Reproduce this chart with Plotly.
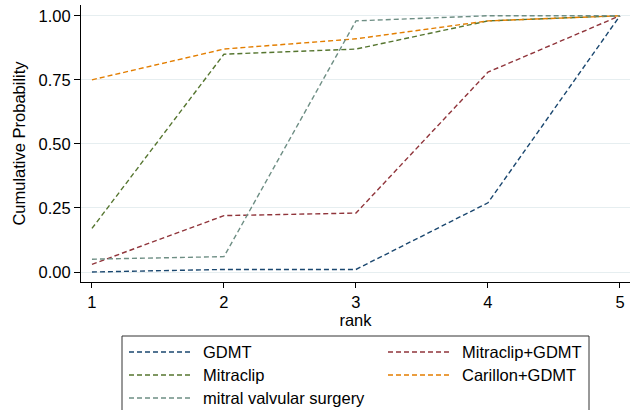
import plotly.graph_objects as go

# Cumulative ranking probabilities by treatment
ranks = [1, 2, 3, 4, 5]
names = ["GDMT", "Mitraclip+GDMT", "Mitraclip", "Carillon+GDMT", "mitral valvular surgery"]
gdmt = [0.00, 0.01, 0.01, 0.27, 1.00]
mitraclip_gdmt = [0.03, 0.22, 0.23, 0.78, 1.00]
mitraclip = [0.17, 0.85, 0.87, 0.98, 1.00]
carillon_gdmt = [0.75, 0.87, 0.91, 0.98, 1.00]
surgery = [0.05, 0.06, 0.98, 1.00, 1.00]
series = [gdmt, mitraclip_gdmt, mitraclip, carillon_gdmt, surgery]
colors = ["#1a476f", "#90353b", "#55752f", "#e37e00", "#6e8e84"]
ytick_vals = [0, 0.25, 0.5, 0.75, 1.0]

W, H = 632, 410
ML, MR, MT, MB = 81, 2, 5, 128
DASH = "5px,3px"
FONT = "Liberation Sans, Arial, sans-serif"
FS = 16.5

fig = go.Figure()
for name, vals, col in zip(names, series, colors):
    fig.add_trace(go.Scatter(
        x=ranks, y=vals, mode="lines", name=name,
        line=dict(color=col, width=1.4, dash=DASH),
        showlegend=False, hoverinfo="x+y+name",
    ))

# Legend box drawn below the plot area (two columns, row-wise order)
plot_h = H - MT - MB
plot_w = W - ML - MR


def px_x(p):
    return (p - ML) / plot_w


def px_y(p):
    return (H - MB - p) / plot_h


shapes = [dict(type="rect", xref="paper", yref="paper",
               x0=px_x(122), x1=px_x(589), y0=px_y(414), y1=px_y(336),
               line=dict(color="#333333", width=1), fillcolor="white", layer="above")]
annotations = []
row_y = [352, 375, 398]
col_x = [(129, 190, 201), (388, 450, 460)]
for i, (name, col) in enumerate(zip(names, colors)):
    r, c = divmod(i, 2)
    x0, x1, xt = col_x[c]
    yy = px_y(row_y[r])
    shapes.append(dict(type="line", xref="paper", yref="paper",
                       x0=px_x(x0), x1=px_x(x1), y0=yy, y1=yy,
                       line=dict(color=col, width=1.4, dash=DASH), layer="above"))
    annotations.append(dict(text=name, xref="paper", yref="paper",
                            x=px_x(xt), y=yy, xanchor="left", yanchor="middle",
                            showarrow=False, font=dict(size=FS, color="#000000", family=FONT)))

fig.update_layout(
    width=W, height=H,
    margin=dict(l=ML, r=MR, t=MT, b=MB),
    paper_bgcolor="white", plot_bgcolor="white",
    font=dict(family=FONT, size=FS, color="#000000"),
    shapes=shapes, annotations=annotations,
    xaxis=dict(
        range=[0.917, 5.076], tickvals=ranks, ticktext=[str(r) for r in ranks],
        showgrid=False, zeroline=False,
        showline=True, linecolor="#000000", linewidth=1.2,
        ticks="outside", ticklen=5, tickwidth=1.2, tickcolor="#000000",
        tickfont=dict(size=FS),
        title=dict(text="rank", font=dict(size=FS), standoff=4),
    ),
    yaxis=dict(
        range=[-0.039, 1.042], tickvals=ytick_vals, tickformat=".2f",
        showgrid=True, gridcolor="#e6eef0", gridwidth=1, zeroline=False,
        showline=True, linecolor="#000000", linewidth=1.2,
        ticks="outside", ticklen=6, tickwidth=1.2, tickcolor="#000000",
        tickfont=dict(size=FS),
        title=dict(text="Cumulative Probability", font=dict(size=FS), standoff=8),
    ),
)

fig.write_html("out.html")
